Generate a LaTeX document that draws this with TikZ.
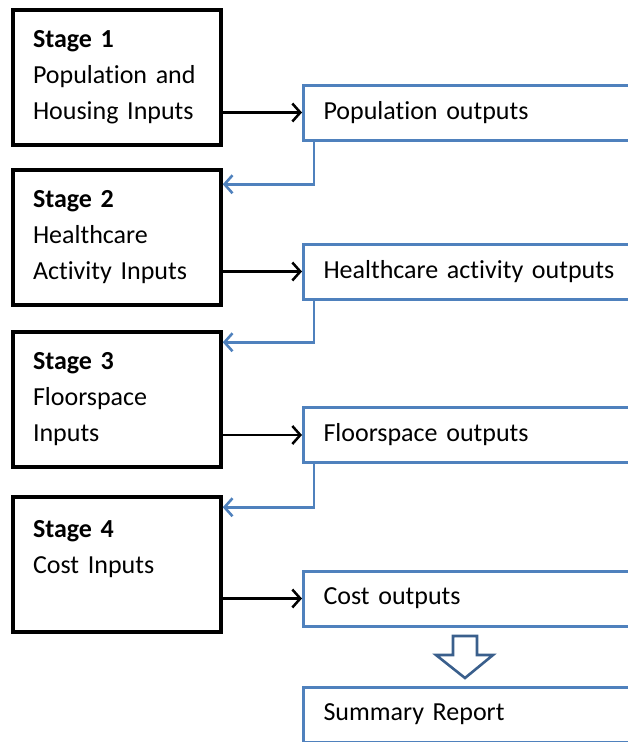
\documentclass[tikz,border=0pt]{standalone}
\usepackage{fontspec}
\setmainfont{Carlito}[Ligatures=NoCommon]
\usetikzlibrary{arrows.meta}
\definecolor{boxblue}{RGB}{79,129,189}
\definecolor{hollowblue}{RGB}{58,95,140}
\begin{document}
\begin{tikzpicture}[x=1pt,y=-1pt,
	stagebox/.style={draw,line width=3.5pt,minimum width=208pt,minimum height=135pt,
		text width=168pt,inner sep=0pt,align=left,font=\fontsize{26}{36}\selectfont},
	outbox/.style={draw=boxblue,line width=3pt,minimum height=55pt,text width=330pt,
		inner xsep=20pt,inner ysep=0pt,align=left,anchor=west,font=\fontsize{26}{36}\selectfont},
	inarrow/.style={line width=2.5pt,-{Straight Barb[length=8pt,width=18pt]}},
	backarrow/.style={draw=boxblue,line width=2.6pt,-{Straight Barb[length=8pt,width=18pt]}},
	hollow/.style={draw=hollowblue,line width=2.6pt,fill=white,line join=miter}]
				\useasboundingbox (0,0) rectangle (627,742);
				\node[stagebox] (s1) at (117,77.5) {\textbf{Stage 1}\\Population and\\Housing Inputs};
				\node[stagebox] (s2) at (117,237.5) {\textbf{Stage 2}\\Healthcare\\Activity Inputs};
				\node[stagebox] (s3) at (117,399.5) {\textbf{Stage 3}\\Floorspace\\Inputs};
				\node[stagebox] (s4) at (117,564.5) {\textbf{Stage 4}\\Cost Inputs\\\mbox{}};
				\node[outbox] (pop) at (302,112.5) {\raisebox{-2pt}{Population outputs}};
				\node[outbox] (hca) at (302,271.5) {\raisebox{-2pt}{Healthcare activity outputs}};
				\node[outbox] (flr) at (302,435) {\raisebox{-2pt}{Floorspace outputs}};
				\node[outbox] (cst) at (302,598.5) {\raisebox{-2pt}{Cost outputs}};
				\node[outbox] (sum) at (302,714.5) {\raisebox{-2pt}{Summary Report}};
				\draw[inarrow] (s1.east |- pop.west) -- (pop.west);
				\draw[inarrow] (s2.east |- hca.west) -- (hca.west);
				\draw[inarrow] (s3.east |- flr.west) -- (flr.west);
				\draw[inarrow] (s4.east |- cst.west) -- (cst.west);
				\draw[backarrow] ([xshift=12pt]pop.south west) |- ([yshift=-16pt]s2.north east);
				\draw[backarrow] ([xshift=12pt]hca.south west) |- ([yshift=-12pt]s3.north east);
				\draw[backarrow] ([xshift=12pt]flr.south west) |- ([yshift=-12pt]s4.north east);
				\draw[hollow] (453,636) -- (477,636) -- (477,655) -- (493,655) -- (465,678)
					-- (436,655) -- (453,655) -- cycle;
			\end{tikzpicture}
\end{document}
